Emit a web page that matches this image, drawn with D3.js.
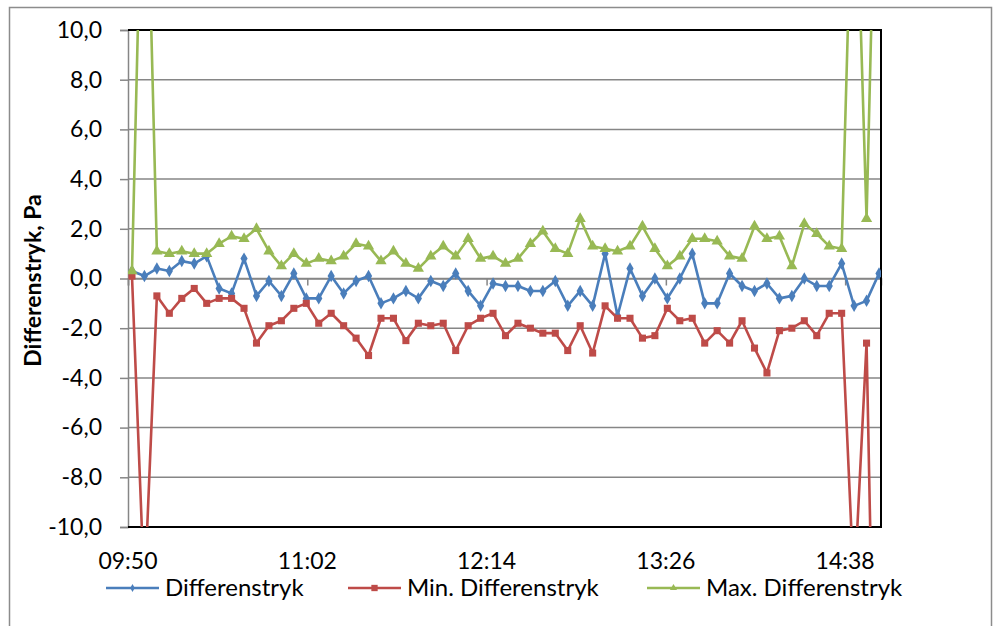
<!DOCTYPE html>
<html>
<head>
<meta charset="utf-8">
<script src="https://cdn.jsdelivr.net/npm/d3@7"></script>
<style>
  html, body { margin: 0; padding: 0; background: #ffffff; }
  svg { display: block; }
  text { font-family: Lato, "Liberation Sans", Arial, sans-serif; fill: #000; }
</style>
</head>
<body>
<svg id="chart" width="996" height="626"></svg>
<script>
// ---- data ----
const times = [
  "09:52","09:57","10:02","10:07","10:12","10:17","10:22","10:27","10:32","10:37",
  "10:42","10:47","10:52","10:57","11:02","11:07","11:12","11:17","11:22","11:27",
  "11:32","11:37","11:42","11:47","11:52","11:57","12:02","12:07","12:12","12:17",
  "12:22","12:27","12:32","12:37","12:42","12:47","12:52","12:57","13:02","13:07",
  "13:12","13:17","13:22","13:27","13:32","13:37","13:42","13:47","13:52","13:57",
  "14:02","14:07","14:12","14:17","14:22","14:27","14:32","14:37","14:42","14:47",
  "14:52"
];
const differenstryk = [
  0.3, 0.1, 0.4, 0.3, 0.7, 0.6, 0.9, -0.4, -0.6, 0.8,
  -0.7, -0.1, -0.7, 0.2, -0.8, -0.8, 0.1, -0.6, -0.1, 0.1,
  -1.0, -0.8, -0.5, -0.8, -0.1, -0.3, 0.2, -0.5, -1.1, -0.2,
  -0.3, -0.3, -0.5, -0.5, -0.1, -1.1, -0.5, -1.1, 1.0, -1.5,
  0.4, -0.7, 0.0, -0.8, 0.0, 1.0, -1.0, -1.0, 0.2, -0.3,
  -0.5, -0.2, -0.8, -0.7, 0.0, -0.3, -0.3, 0.6, -1.1, -0.9,
  0.2
];
const minDifferenstryk = [
  0.1, -12.7, -0.7, -1.4, -0.8, -0.4, -1.0, -0.8, -0.8, -1.2,
  -2.6, -1.9, -1.7, -1.2, -1.0, -1.8, -1.4, -1.9, -2.4, -3.1,
  -1.6, -1.6, -2.5, -1.8, -1.9, -1.8, -2.9, -1.9, -1.6, -1.4,
  -2.3, -1.8, -2.0, -2.2, -2.2, -2.9, -1.9, -3.0, -1.1, -1.6,
  -1.6, -2.4, -2.3, -1.2, -1.7, -1.6, -2.6, -2.1, -2.6, -1.7,
  -2.8, -3.8, -2.1, -2.0, -1.7, -2.3, -1.4, -1.4, -12.6, -2.6,
  -28.0
];
const maxDifferenstryk = [
  0.3, 21.0, 1.1, 1.0, 1.1, 1.0, 1.0, 1.4, 1.7, 1.6,
  2.0, 1.1, 0.5, 1.0, 0.6, 0.8, 0.7, 0.9, 1.4, 1.3,
  0.7, 1.1, 0.6, 0.4, 0.9, 1.3, 0.9, 1.6, 0.8, 0.9,
  0.6, 0.8, 1.4, 1.9, 1.2, 1.0, 2.4, 1.3, 1.2, 1.1,
  1.3, 2.1, 1.2, 0.5, 0.9, 1.6, 1.6, 1.5, 0.9, 0.8,
  2.1, 1.6, 1.7, 0.5, 2.2, 1.8, 1.3, 1.2, 19.0, 2.4,
  23.0
];
const seriesNames = ["Differenstryk", "Min. Differenstryk", "Max. Differenstryk"];
const seriesColors = ["#4A7EBB", "#BE4B48", "#98B954"];
const xTickLabels = ["09:50", "11:02", "12:14", "13:26", "14:38"];
const xTickValues = [0.41, 0.46, 0.51, 0.56, 0.61];   // day fractions
const xDomain = [0.41, 0.62];
const yTicks = [-10, -8, -6, -4, -2, 0, 2, 4, 6, 8, 10];
const yDomain = [-10, 10];
const yTitle = "Differenstryk, Pa";

// ---- layout ----
const svg = d3.select("#chart");
const L = 128, T = 30, R = 881, B = 527;
const FS = 23;

const toDay = s => { const [h, m] = s.split(":").map(Number); return (h * 60 + m) / 1440; };
const x = d3.scaleLinear().domain(xDomain).range([L, R]);
const y = d3.scaleLinear().domain(yDomain).range([B, T]);

// outer chart border
svg.append("rect").attr("x", 9.5).attr("y", 7.5).attr("width", 982).attr("height", 640)
  .attr("fill", "#fff").attr("stroke", "#8c8c8c").attr("stroke-width", 1.5);

// gridlines
svg.append("g").selectAll("line").data(yTicks).join("line")
  .attr("x1", L).attr("x2", R)
  .attr("y1", d => y(d)).attr("y2", d => y(d))
  .attr("stroke", "#868686").attr("stroke-width", 1.5);

// y axis
const yAxis = d3.axisLeft(y).tickValues(yTicks).tickSize(8).tickPadding(18)
  .tickFormat(d => d3.format(".1f")(d).replace(".", ",").replace("−", "-"));
const gy = svg.append("g").attr("transform", `translate(${L},0)`).call(yAxis);
gy.select(".domain").attr("stroke", "#868686").attr("stroke-width", 1.5);
gy.selectAll(".tick line").attr("stroke", "#868686").attr("stroke-width", 1.5);
gy.selectAll(".tick text").attr("font-size", FS).attr("font-family", "Lato, Liberation Sans, Arial, sans-serif").attr("fill", "#000");

// x axis line at zero with ticks
const xAxis = d3.axisBottom(x).tickValues(xTickValues).tickSize(7).tickFormat(() => "");
const gx = svg.append("g").attr("transform", `translate(0,${y(0)})`).call(xAxis);
gx.select(".domain").attr("stroke", "#868686").attr("stroke-width", 1.5);
gx.selectAll(".tick line").attr("stroke", "#868686").attr("stroke-width", 1.5);

// x tick labels at bottom
svg.append("g").selectAll("text").data(xTickValues).join("text")
  .attr("x", d => x(d)).attr("y", 569)
  .attr("text-anchor", "middle").attr("font-size", FS)
  .text((d, i) => xTickLabels[i]);

// plot border (top, right, bottom black)
svg.append("path")
  .attr("d", `M${L},${T}H${R}V${B}H${L}`)
  .attr("fill", "none").attr("stroke", "#000").attr("stroke-width", 2);

// clip
svg.append("defs").append("clipPath").attr("id", "plotclip")
  .append("rect").attr("x", L).attr("y", T).attr("width", R - L).attr("height", B - T);

const allSeries = [differenstryk, minDifferenstryk, maxDifferenstryk];
const line = d3.line().x(d => x(d.t)).y(d => y(d.v));
const plot = svg.append("g").attr("clip-path", "url(#plotclip)");

const diamond = d3.symbol().type(d3.symbolDiamond).size(45)();
const square = d3.symbol().type(d3.symbolSquare).size(50)();
const triangle = d3.symbol().type(d3.symbolTriangle).size(55)();
const markers = [diamond, square, triangle];

allSeries.forEach((vals, si) => {
  const pts = vals.map((v, i) => ({ t: toDay(times[i]), v }));
  plot.append("path").datum(pts)
    .attr("d", line).attr("fill", "none")
    .attr("stroke", seriesColors[si]).attr("stroke-width", 2.6)
    .attr("stroke-linejoin", "round");
  plot.append("g").selectAll("path").data(pts).join("path")
    .attr("d", markers[si])
    .attr("transform", d => `translate(${x(d.t)},${y(d.v)})`)
    .attr("fill", seriesColors[si]);
});

// y title
svg.append("text")
  .attr("transform", `translate(41,${(T + B) / 2 + 2}) rotate(-90)`)
  .attr("text-anchor", "middle").attr("font-size", FS).attr("font-weight", "bold")
  .text(yTitle);

// legend
const legendX = [106, 348, 647];
const legendY = 588;
const lg = svg.append("g");
const legendMarkers = [
  d3.symbol().type(d3.symbolDiamond).size(18)(),
  d3.symbol().type(d3.symbolSquare).size(40)(),
  d3.symbol().type(d3.symbolTriangle).size(22)()
];
seriesNames.forEach((name, i) => {
  const g = lg.append("g").attr("transform", `translate(${legendX[i]},${legendY})`);
  g.append("line").attr("x1", 0).attr("x2", 53).attr("y1", 0).attr("y2", 0)
    .attr("stroke", seriesColors[i]).attr("stroke-width", 2.6);
  g.append("path").attr("d", legendMarkers[i]).attr("transform", "translate(26.5,0)")
    .attr("fill", seriesColors[i]);
  g.append("text").attr("x", 59).attr("y", 8).attr("font-size", 24).text(name);
});
</script>
</body>
</html>
